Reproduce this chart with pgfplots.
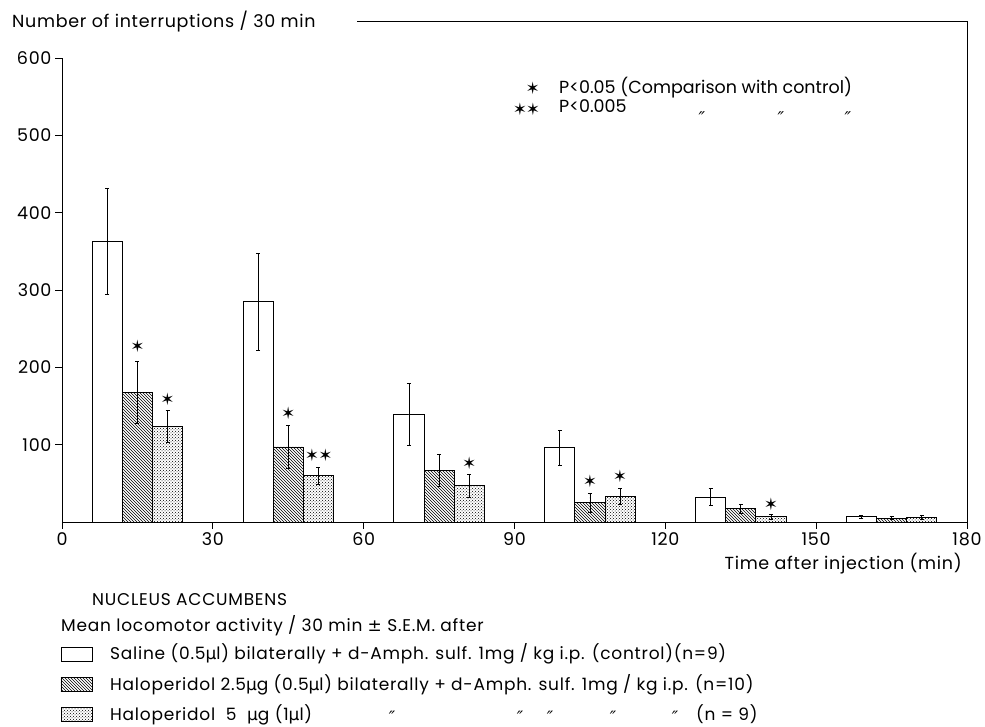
\documentclass[border=0pt]{standalone}
\usepackage{fontspec}
\setmainfont{Poppins}
\newfontfamily\djv{DejaVu Sans}
\newfontfamily\lsfont[LetterSpace=4]{Poppins}
\newfontfamily\lssfont[LetterSpace=4.5]{Poppins}
\usepackage{pgfplots}
\usepackage{pgfplotstable}
\pgfplotsset{compat=1.18}
\usetikzlibrary{patterns}

\pgfplotstableread{
x y e
9 363 69
39 285 63
69 139 40
99 96 23
129 32 11
159 7 2
}\saline
\pgfplotstableread{
x y e
15 168 40
45 97 28
75 67 21
105 25 12
135 17 6
165 5 2
}\halolow
\pgfplotstableread{
x y e
21 124 21
51 60 11
81 47 15
111 33 10
141 7 3
171 6 2
}\halohigh
\pgfplotstableread{
x y
15 227
21 159
45 141
49.7 86
52.4 86
81 76
105 53
111 59
141 23
}\stars

\newcommand{\bigf}{\lsfont\fontsize{17.5}{17.5}\selectfont}
\newcommand{\bign}{\rmfamily\fontsize{17.5}{17.5}\selectfont}
\newcommand{\smallf}{\lssfont\fontsize{17}{17}\selectfont}
\newcommand{\str}{{\djv\fontsize{17}{17}\selectfont ✶}}
\newcommand{\ditto}{{\djv\itshape ″}}

\begin{document}
\begin{tikzpicture}[x=1pt,y=1pt]
\useasboundingbox (-62,-205) rectangle (923,522);
\begin{axis}[
  at={(0,0)}, anchor=south west,
  scale only axis, width=905pt, height=464pt,
  xmin=0, xmax=180, ymin=0, ymax=600,
  axis x line*=bottom, axis y line*=left,
  axis line style={line width=0.8pt, -},
  xtick={0,30,...,180}, ytick={100,200,...,600},
  tick align=outside, major tick length=7pt,
  tick style={line width=0.8pt, black},
  /pgf/number format/assume math mode=true,
  ticklabel style={font=\bigf},
  clip=false,
]
\addplot[ybar, bar width=6, bar shift=0pt, fill=white, draw=black, line width=0.8pt,
  error bars/.cd, y dir=both, y explicit,
  error bar style={line width=0.7pt},
  error mark options={rotate=90, mark size=2pt, line width=0.7pt}]
  table[x=x, y=y, y error=e] {\saline};
\addplot[ybar, bar width=6, bar shift=0pt, pattern=north west lines, draw=black, line width=0.8pt,
  error bars/.cd, y dir=both, y explicit,
  error bar style={line width=0.7pt},
  error mark options={rotate=90, mark size=2pt, line width=0.7pt}]
  table[x=x, y=y, y error=e] {\halolow};
\addplot[ybar, bar width=6, bar shift=0pt, pattern=crosshatch dots, draw=black, line width=0.8pt,
  error bars/.cd, y dir=both, y explicit,
  error bar style={line width=0.7pt},
  error mark options={rotate=90, mark size=2pt, line width=0.7pt}]
  table[x=x, y=y, y error=e] {\halohigh};
\addplot[draw=none, mark=none, nodes near coords={\str},
  every node near coord/.append style={anchor=center, inner sep=0pt}]
  table[x=x, y=y] {\stars};
\end{axis}
% frame
\draw[line width=0.8pt] (905,0) -- (905,500.3) -- (295,500.3);
% title
\node[anchor=base west, inner sep=0pt, font=\bigf] at (-50,494) {Number of interruptions / 30 min};
% significance legend
\node[inner sep=0pt] at (470.7,433.7) {\str};
\node[anchor=base west, inner sep=0pt, font=\bign] at (497,428.7) {P<0.05 (Comparison with control)};
\node[inner sep=0pt] at (458,413) {\str};
\node[inner sep=0pt] at (471,413) {\str};
\node[anchor=base west, inner sep=0pt, font=\bign] at (497,409) {P<0.005};
\node[inner sep=0pt, font=\bigf] at (640,404) {\ditto};
\node[inner sep=0pt, font=\bigf] at (719,404) {\ditto};
\node[inner sep=0pt, font=\bigf] at (786,404) {\ditto};
% x label
\node[anchor=base east, inner sep=0pt, font=\bigf] at (900,-48) {Time after injection (min)};
% bottom legend
\node[anchor=base west, inner sep=0pt, font=\smallf] at (30,-84) {NUCLEUS ACCUMBENS};
\node[anchor=base west, inner sep=0pt, font=\smallf] at (-1,-109.7) {Mean locomotor activity / 30 min {\djv ±} S.E.M. after};
\draw[line width=0.8pt] (-1,-139.5) rectangle (30,-125.5);
\draw[line width=0.8pt, pattern=north west lines] (-1,-169.5) rectangle (30,-155.5);
\draw[line width=0.8pt, pattern=crosshatch dots] (-1,-199.5) rectangle (30,-185.5);
\node[anchor=base west, inner sep=0pt, font=\smallf] at (48,-138) {Saline (0.5{\djv μ}l) bilaterally + d-Amph. sulf. 1mg / kg i.p. (control)(n=9)};
\node[anchor=base west, inner sep=0pt, font=\smallf] at (48,-168.3) {Haloperidol 2.5{\djv μ}g (0.5{\djv μ}l) bilaterally + d-Amph. sulf. 1mg / kg i.p. (n=10)};
\node[anchor=base west, inner sep=0pt, font=\smallf] at (48,-198.3) {Haloperidol \ 5 \ {\djv μ}g (1{\djv μ}l)};
\node[inner sep=0pt, font=\smallf] at (330,-195) {\ditto};
\node[inner sep=0pt, font=\smallf] at (458,-195) {\ditto};
\node[inner sep=0pt, font=\smallf] at (488,-195) {\ditto};
\node[inner sep=0pt, font=\smallf] at (551,-195) {\ditto};
\node[inner sep=0pt, font=\smallf] at (613,-195) {\ditto};
\node[anchor=base west, inner sep=0pt, font=\smallf] at (634,-198.3) {(n = 9)};
\end{tikzpicture}
\end{document}
